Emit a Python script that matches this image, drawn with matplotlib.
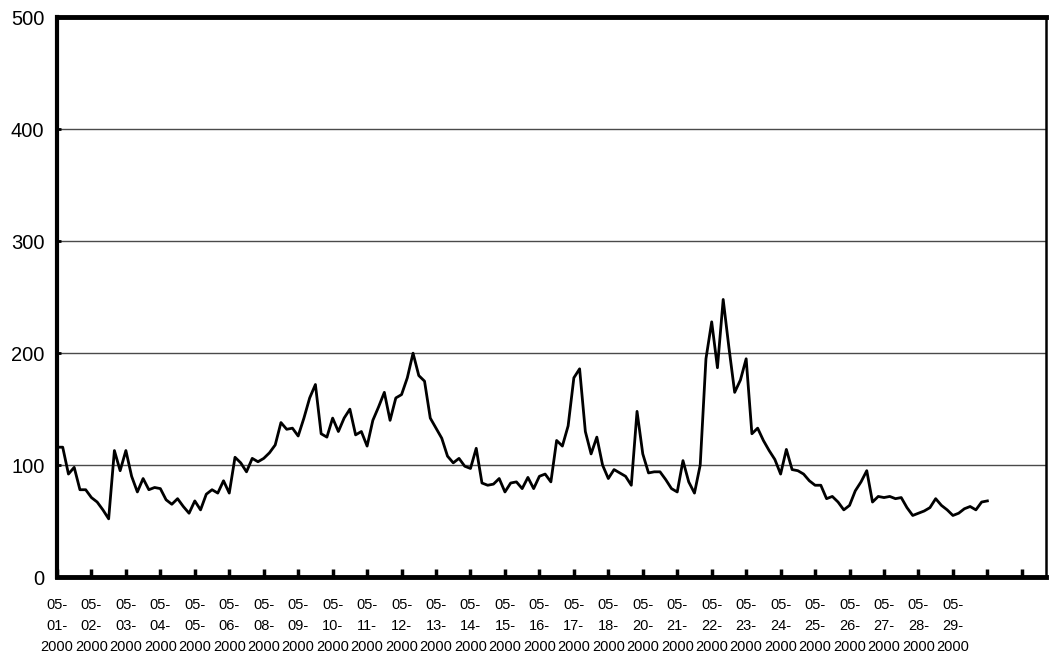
import numpy as np
import matplotlib
matplotlib.use("Agg")
import matplotlib.pyplot as plt

# label days on the category axis (05-07 and 05-19 are skipped in the source)
days = ["01", "02", "03", "04", "05", "06", "08", "09", "10", "11", "12", "13", "14",
        "15", "16", "17", "18", "20", "21", "22", "23", "24", "25", "26", "27", "28", "29"]
month = "05"
year = "2000"

# readings, 6 per label interval
values = [
    116, 116, 92, 98, 78, 78, 71, 67, 60, 52,
    113, 95, 113, 90, 76, 88, 78, 80, 79, 69,
    65, 70, 63, 57, 68, 60, 74, 78, 75, 86,
    75, 107, 102, 94, 106, 103, 106, 111, 118, 138,
    132, 133, 126, 142, 160, 172, 128, 125, 142, 130,
    142, 150, 127, 130, 117, 140, 152, 165, 140, 160,
    163, 178, 200, 180, 175, 142, 133, 124, 108, 102,
    106, 99, 97, 115, 84, 82, 83, 88, 76, 84,
    85, 79, 89, 79, 90, 92, 85, 122, 117, 135,
    178, 186, 130, 110, 125, 100, 88, 96, 93, 90,
    82, 148, 110, 93, 94, 94, 87, 79, 76, 104,
    85, 75, 100, 195, 228, 187, 248, 205, 165, 176,
    195, 128, 133, 122, 113, 105, 92, 114, 96, 95,
    92, 86, 82, 82, 70, 72, 67, 60, 64, 77,
    85, 95, 67, 72, 71, 72, 70, 71, 62, 55,
    57, 59, 62, 70, 64, 60, 55, 57, 61, 63,
    60, 67, 68,
]
per_day = 6

x = np.arange(len(values)) / per_day

fig = plt.figure(figsize=(10.51, 6.65), dpi=100)
ax = fig.add_axes([0.0542, 0.1323, 0.9410, 0.8415])

font = ["Liberation Sans", "DejaVu Sans"]

# gridlines
for g in [100, 200, 300, 400]:
    ax.axhline(g, color="#4a4a4a", lw=1.0, zorder=1)

ax.plot(x, values, color="black", lw=2.0, zorder=3)

ax.set_xlim(0, 28.7)
ax.set_ylim(0, 500)

# frame
ax.spines["top"].set_linewidth(3.5)
ax.spines["left"].set_linewidth(3.0)
ax.spines["bottom"].set_linewidth(3.5)
ax.spines["right"].set_linewidth(1.8)

ticks = list(range(0, 29))
labels = [f"{month}-\n{d}-\n{year}" for d in days] + [""] * (len(ticks) - len(days))
ax.set_xticks(ticks)
ax.set_xticklabels(labels, family=font, fontsize=10.5, linespacing=1.65)
ax.tick_params(axis="x", direction="in", length=6, width=2.5, pad=15)

ax.set_yticks([0, 100, 200, 300, 400, 500])
ax.set_yticklabels(["0", "100", "200", "300", "400", "500"], family=font, fontsize=14.5)
ax.tick_params(axis="y", direction="in", length=3, width=2, pad=9)

fig.savefig("out.png", dpi=100)
